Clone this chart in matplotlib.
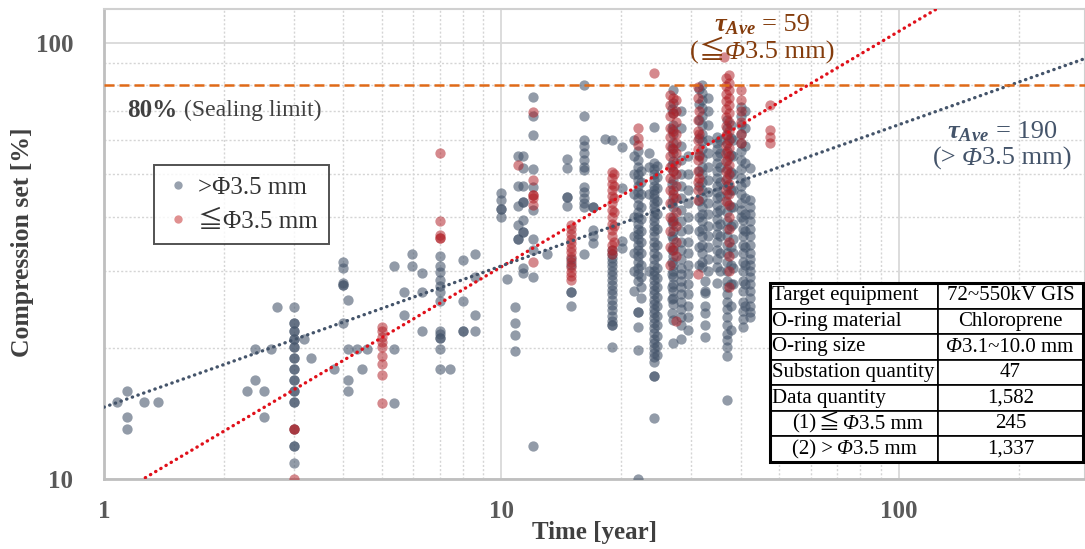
import numpy as np
import matplotlib.pyplot as plt
from matplotlib.ticker import FixedLocator, FuncFormatter, LogLocator, NullFormatter
from matplotlib.lines import Line2D
from matplotlib.patches import Rectangle

plt.rcParams['font.family'] = ['Liberation Serif', 'Noto Sans CJK JP']
plt.rcParams['mathtext.fontset'] = 'custom'
plt.rcParams['mathtext.rm'] = 'Liberation Serif'
plt.rcParams['mathtext.it'] = 'Liberation Serif:italic'
plt.rcParams['mathtext.bf'] = 'Liberation Serif:italic:bold'

# >Φ3.5 mm : operating time [year] and compression set [%] per column
big_years = [1.08, 1.14, 1.26, 1.37, 2.29, 2.40, 2.52, 2.63, 2.73, 3.0, 3.19, 3.32,
             3.78, 4.0, 4.11, 4.34, 4.47, 4.60, 5.36, 5.70, 5.97, 6.31, 7.0, 7.44,
             8.0, 8.6, 10.0, 10.3, 10.8, 11.0, 11.3, 12.0, 13.0, 14.6, 15.0, 16.1,
             17.0, 18.2, 19.0, 20.1, 21.5, 22.0, 23.5, 24.2, 27.0, 28.3, 29.5, 32.0,
             33.0, 32.5, 34.9, 37.0, 38.2, 40.0, 40.5, 42.2,
             22.5, 24.6, 26.8, 31.5, 35.5, 37.8, 41.0]
big_vals = [
    [15.0], [15.9, 13.9, 13.0], [15.0], [15.0], [15.9], [19.9, 16.9], [15.9, 13.9],
    [19.9], [24.8],
    [24.8, 22.8, 22.8, 21.8, 21.8, 20.9, 20.9, 20.1, 20.1, 18.9, 18.9, 17.9, 17.9,
     16.9, 16.9, 15.9, 15.9, 15.0, 15.0, 13.0, 11.9, 11.9, 10.9],
    [20.9], [18.9], [17.9], [31.5, 30.4, 28.1, 27.9, 27.9, 22.8], [25.8, 19.9, 16.9, 15.9],
    [19.9], [17.9], [19.9], [30.8, 19.9, 14.9], [26.8, 23.8], [32.8, 30.8],
    [29.7, 26.8, 21.9],
    [32.5, 30.8, 29.8, 28.6, 27.7, 26.8, 25.6, 21.9, 21.5, 21.1, 21.1, 19.9, 17.9],
    [17.9], [31.8, 25.6, 21.8, 21.8], [32.8, 29.0, 23.8, 21.9],
    [45.3, 43.6, 41.6, 41.6, 40.0], [28.8], [24.8, 22.8, 21.4, 19.7],
    [55.2, 46.9, 42.2, 38.2, 35.6, 35.6],
    [55.0, 51.6, 46.9, 43.1, 43.1, 39.3, 36.9, 36.9, 30.4, 29.7],
    [75.3, 68.2, 61.5, 51.3, 46.7, 41.3, 35.6, 33.5, 29.1, 11.9],
    [32.9], [54.1, 51.6, 44.4, 44.4, 42.3], [32.0, 31.0, 26.9, 26.9, 24.9],
    [80.0, 68.2, 59.9, 58.0, 56.0, 54.0, 52.0, 51.1, 46.8, 45.5, 44.0, 43.0, 42.1, 32.9],
    [42.1, 42.1, 37.3, 36.0, 34.7], [60.2],
    [59.9, 33.5, 32.9, 32.2, 31.5, 30.8, 30.0, 29.3, 28.6, 27.9, 27.2, 26.5, 25.8,
     25.1, 24.4, 23.7, 23.0, 22.5, 22.5, 20.1],
    [57.7, 46.4, 35.1, 33.8],
    [60.0, 55.0, 50.0, 45.0, 40.0, 36.0, 33.0, 30.0, 27.0],
    [56.4, 54.0, 52.0, 50.0, 48.5, 47.0, 45.5, 44.0, 42.5, 41.0, 40.0, 38.5, 37.5,
     36.5, 35.5, 34.5, 33.5, 32.5, 31.5, 30.5, 29.5, 28.5, 24.1, 24.1, 22.3, 19.8, 10.0],
    [56.0, 52.0, 45.0, 30.0],
    [64.3, 53.0, 51.5, 50.0, 48.5, 47.0, 46.0, 45.0, 44.0, 43.0, 42.0, 41.0, 40.0,
     39.0, 38.0, 37.0, 36.0, 35.0, 34.0, 33.0, 32.0, 31.0, 30.0, 29.3, 28.6, 27.9,
     27.2, 26.5, 25.8, 25.2, 24.6, 24.0, 23.4, 22.8, 22.2, 21.6, 21.0, 20.5, 20.0,
     19.5, 19.0, 18.6, 17.2, 17.2, 13.8],
    [78.0, 73.0, 69.0, 65.0, 62.0, 59.0, 56.0, 53.5, 51.0, 48.5, 46.0, 44.0, 42.0,
     40.0, 38.5, 37.0, 35.5, 34.0, 32.5, 31.0, 30.0, 29.0, 28.0, 27.0, 26.0, 25.2,
     23.2, 20.5],
    [70.0, 64.0, 58.0, 54.0, 50.0, 47.0, 44.0, 41.5, 39.0, 37.0, 35.0, 33.5, 32.0,
     30.5, 29.5, 28.5, 27.5, 26.5, 25.5, 24.5, 23.5, 22.5, 21.0],
    [55.0, 50.0, 46.0, 43.0, 40.0, 37.5, 35.0, 33.0, 31.0, 29.5, 28.0, 26.5, 25.0,
     23.5, 22.0],
    [80.0, 77.0, 74.0, 71.0, 68.0, 65.0, 62.0, 59.5, 57.0, 54.5, 52.0, 50.0, 48.0,
     46.0, 44.0, 42.0, 40.5, 39.0, 37.5, 36.0, 34.5, 33.0, 31.5, 30.7],
    [75.0, 70.0, 65.0, 60.0, 56.0, 52.0, 48.5, 45.5, 43.0, 40.5, 38.0, 36.0, 34.0,
     32.0, 30.0],
    [28.5, 27.0, 26.7, 25.0, 24.0, 22.5, 21.2],
    [61.0, 59.0, 57.0, 55.0, 53.0, 51.0, 49.0, 47.0, 45.5, 44.0, 42.5, 41.0, 39.5,
     38.0, 36.5, 35.0, 33.5, 32.0, 30.7, 28.1],
    [66.6, 64.0, 61.5, 59.0, 56.5, 54.0, 51.5, 49.0, 47.0, 45.0, 43.0, 41.0, 39.0,
     37.5, 36.0, 34.5, 33.0, 31.5, 30.0, 28.5, 27.5, 26.5, 25.5, 24.5, 23.5, 22.5,
     21.5, 20.8, 20.1, 19.1, 15.2],
    [60.0, 55.0, 50.0, 46.0, 42.0, 38.5, 35.5, 33.0, 30.5, 28.0],
    [71.4, 68.0, 65.0, 62.0, 59.0, 56.5, 54.0, 51.5, 49.0, 47.0, 45.0, 43.0, 41.5, 39.9],
    [39.3, 37.5, 36.0, 34.5, 33.0, 31.5, 30.0, 28.5, 27.0, 25.5, 24.3, 23.3, 22.3],
    [51.6, 43.6, 42.0, 40.5, 39.0, 37.5, 36.0, 34.5, 33.0, 32.0, 31.0, 30.0, 29.0,
     28.0, 27.0, 26.0, 25.0, 24.2, 23.5],
    [50.9, 48.0, 45.0, 42.0, 39.5, 37.0, 35.0, 33.0, 31.0, 29.0, 27.5, 26.0],
    [52.2, 49.2, 46.5, 43.5, 40.5, 37.5, 34.5, 32.5, 30.5, 28.9, 27.5, 26.2, 24.9,
     23.7, 22.5, 21.3, 20.2, 19.2],
    [70.5, 63.5, 57.5, 52.5, 47.5, 43.0, 39.0, 36.0, 33.5, 31.5, 29.5, 27.5, 25.9, 24.0],
    [78.5, 72.5, 66.5, 60.5, 55.5, 51.0, 47.0, 43.5, 40.0, 37.0, 34.0, 31.0],
    [60.0, 56.0, 52.0, 48.0, 44.5, 41.5, 38.5, 36.0, 33.0, 30.0],
    [65.0, 60.5, 55.5, 50.5, 46.0, 42.0, 38.0, 34.0, 31.0, 28.0, 25.0, 22.0],
    [70.0, 64.0, 58.0, 53.0, 48.0, 44.0, 40.5, 37.0, 34.0, 31.0, 28.0, 25.0],
]

# ≦Φ3.5 mm
small_years = [3.0, 5.0, 7.0, 11.0, 12.0, 15.0, 19.0, 22.0, 24.2, 26.5, 27.5, 31.2,
               36.3, 37.4, 40.0, 47.4, 36.8, 27.0, 19.2, 31.5]
small_vals = [
    [13.0, 13.0, 10.0],
    [22.3, 21.8, 21.2, 20.6, 20.1, 19.1, 18.4, 17.3, 14.9],
    [56.0, 39.0, 36.2, 35.8, 35.8],
    [52.6],
    [69.4, 48.6, 44.8, 44.8, 44.0, 42.5, 31.4],
    [38.3, 37.4, 36.5, 35.6, 34.7, 33.9, 33.1, 32.3, 31.5, 30.7, 29.9, 29.2, 28.6],
    [50.7, 49.0, 47.5, 46.0, 44.5, 43.0, 41.5, 40.0, 38.5, 37.3, 36.0, 34.5, 33.5, 32.9],
    [63.7, 60.5, 58.5],
    [85.2],
    [76.0, 72.0, 68.0, 64.0, 61.0, 58.0, 55.0, 52.0, 49.0, 46.0, 43.0, 40.0, 37.0,
     34.0, 31.0],
    [74.0, 70.0, 66.0, 62.0, 59.0, 56.0, 53.0, 50.0, 47.0, 44.0, 41.0, 38.0, 35.0,
     32.5, 23.0],
    [79.1, 75.0, 66.6, 63.0, 60.0, 57.0, 54.0, 51.0, 48.0, 46.0, 43.6, 29.5],
    [92.9],
    [84.3, 81.0, 78.0, 75.0, 72.0, 69.0, 66.0, 63.0, 60.0, 57.5, 55.0, 52.5, 50.0,
     47.5, 45.0, 42.5, 40.0, 37.5, 35.0, 32.5, 30.0, 27.6],
    [78.0, 74.0, 70.0, 66.0, 62.0, 59.0],
    [72.1, 63.2, 61.0, 58.9],
    [83.0, 79.5, 76.5, 73.5, 70.5, 67.5, 64.5, 61.5, 58.5, 56.0, 53.5, 51.0, 48.5,
     46.0, 43.5],
    [75.0, 69.0, 63.0, 57.0, 51.0, 45.0, 39.0, 33.5],
    [50.0, 47.0, 44.0, 41.0, 38.0, 35.0],
    [70.0, 62.0, 55.0, 49.0],
]

# trend lines: y = limit * (t / tau) ** n
limit = 80
tau_small, n_small = 59, 0.54
tau_big, n_big = 190, 0.324

table_rows = [
    ["Target equipment", "72~550kV GIS"],
    ["O-ring material", "Chloroprene"],
    ["O-ring size", ""],
    ["Substation quantity", "47"],
    ["Data quantity", "1,582"],
    ["", "245"],
    ["", "1,337"],
]

c_big = '#44546a'
c_small = '#b01e25'
c_txt = '#595959'
W, H = 1085, 549

fig = plt.figure(figsize=(W / 100, H / 100), dpi=100)
ax = fig.add_axes([104 / W, 70 / H, 981 / W, 470 / H])
ax.set_xscale('log')
ax.set_yscale('log')
ax.set_xlim(1, 294)
ax.set_ylim(10, 119.7)

bx = np.concatenate([[t] * len(v) for t, v in zip(big_years, big_vals)])
by = np.concatenate(big_vals)
sx = np.concatenate([[t] * len(v) for t, v in zip(small_years, small_vals)])
sy = np.concatenate(small_vals)
ax.scatter(bx, by, s=55, color=c_big, alpha=0.58, linewidths=0, zorder=3)
ax.scatter(sx, sy, s=55, color=c_small, alpha=0.52, linewidths=0, zorder=3)

tt = np.logspace(0, np.log10(300), 200)
ax.plot(tt, limit * (tt / tau_small) ** n_small, color='#e0101a', lw=2.4,
        ls=(0, (0.1, 1.7)), dash_capstyle='round', zorder=4)
ax.plot(tt, limit * (tt / tau_big) ** n_big, color=c_big, lw=2.4,
        ls=(0, (0.1, 1.7)), dash_capstyle='round', zorder=4)
ax.axhline(limit, color='#e06a18', lw=1.8, ls=(0, (4, 2)), zorder=4)

# grid & axes
ax.xaxis.set_major_locator(FixedLocator([1, 10, 100]))
ax.yaxis.set_major_locator(FixedLocator([10, 100]))
ax.xaxis.set_minor_locator(LogLocator(subs=range(2, 10)))
ax.yaxis.set_minor_locator(LogLocator(subs=range(2, 10)))
fmt = FuncFormatter(lambda v, p: f"{v:g}")
ax.xaxis.set_major_formatter(fmt)
ax.yaxis.set_major_formatter(fmt)
ax.xaxis.set_minor_formatter(NullFormatter())
ax.yaxis.set_minor_formatter(NullFormatter())
ax.tick_params(which='both', length=0)
ax.tick_params(axis='x', pad=15, labelsize=18, labelcolor=c_txt)
ax.tick_params(axis='y', pad=22, labelsize=18, labelcolor=c_txt)
for lab in ax.get_xticklabels() + ax.get_yticklabels():
    lab.set_fontweight('bold')
ax.grid(which='major', color='#d9d9d9', lw=1.3, ls='-')
ax.grid(which='minor', color='#d5d5d5', lw=1.0, ls=(0, (1.5, 1.5)))
ax.set_axisbelow(True)
for side in ['left', 'bottom']:
    ax.spines[side].set_color('#bfbfbf')
    ax.spines[side].set_linewidth(2)
for side in ['top', 'right']:
    ax.spines[side].set_color('#d0d0d0')
    ax.spines[side].set_linewidth(1.5)

fig.text(22 / W, 1 - 242 / H, "Compression set [%]", rotation=90, ha='center',
         va='center', fontsize=18.5, fontweight='bold', color='#404040')
fig.text(594 / W, 1 - 533 / H, "Time [year]", ha='center', va='center',
         fontsize=18, fontweight='bold', color='#404040')

ax.text(0.0234, 0.785, "80%", transform=ax.transAxes, ha='left', va='center',
        fontsize=18, fontweight='bold', color='#404040')
ax.text(0.082, 0.785, "(Sealing limit)", transform=ax.transAxes, ha='left',
        va='center', fontsize=17, color='#404040')

RM = {}
IT = {'fontstyle': 'italic'}
SYM = {'family': 'Noto Sans CJK JP'}
renderer = fig.canvas.get_renderer()


def rich_text(x, y, pieces, size, color, ha='center', zorder=8):
    # x, y: figure pixels from top-left, y is the baseline; numbers are gaps in px
    arts, widths = [], []
    for p in pieces:
        if isinstance(p, (int, float)):
            arts.append(None)
            widths.append(p)
            continue
        s, kw = p
        a = fig.text(0, 1 - y / H, s, fontsize=size, color=color, ha='left',
                     va='baseline', zorder=zorder, **kw)
        arts.append(a)
        widths.append(a.get_window_extent(renderer).width)
    x0 = x - sum(widths) / 2 if ha == 'center' else x
    for a, w in zip(arts, widths):
        if a is not None:
            a.set_x(x0 / W)
        x0 += w


rich_text(762, 31, [(r"$\mathbf{τ_{Ave}}$", RM), 6, ("= 59", RM)], 19, '#843c0c')
rich_text(762, 59, [("(", RM), ("≦", SYM), ("Φ", IT), ("3.5 mm)", RM)], 19, '#843c0c')
rich_text(1002, 138, [(r"$\mathbf{τ_{Ave}}$", RM), 6, ("= 190", RM)], 19, c_big)
rich_text(1002, 165, [("(>", RM), 5, ("Φ", IT), ("3.5 mm)", RM)], 19, c_big)

# legend
handles = [Line2D([], [], ls='', marker='o', ms=6, mec='none', color='#98a1ae'),
           Line2D([], [], ls='', marker='o', ms=6, mec='none', color='#e09090')]
leg = ax.legend(handles, [">Φ3.5 mm", "≦Φ3.5 mm"], loc='upper left',
                bbox_to_anchor=(0.051, 0.668), fontsize=18, frameon=True,
                fancybox=False, handletextpad=0.3, handlelength=1.0,
                borderpad=0.45, labelspacing=0.45, borderaxespad=0)
leg.get_frame().set_edgecolor('#262626')
leg.get_frame().set_linewidth(1.4)
for t in leg.get_texts():
    t.set_color('#333333')

# table
tab = ax.table(cellText=table_rows, cellLoc='center', colWidths=[0.537, 0.463],
               bbox=[0.679, 0.036, 0.319, 0.381])
tab.set_zorder(6)
tab.auto_set_font_size(False)
tab.set_fontsize(15)
for (r, c), cell in tab.get_celld().items():
    cell.set_edgecolor('black')
    cell.set_linewidth(1.2)
    cell.set_facecolor('white')
    cell.PAD = 0.012
    if c == 0:
        cell._loc = 'left'
        cell.get_text().set_ha('left')
ax.add_patch(Rectangle((0.679, 0.036), 0.319, 0.381, transform=ax.transAxes,
                       fill=False, lw=2.2, edgecolor='black', zorder=7))

row_h = 179 / 7
base = lambda i: 283 + (i + 0.5) * row_h + 5
rich_text(1010, base(2), [("Φ", IT), ("3.1~10.0 mm", RM)], 15, 'black')
rich_text(792, base(5), [("(1)", RM), 3, ("≦", SYM), 3, ("Φ", IT), ("3.5 mm", RM)],
          15, 'black', ha='left')
rich_text(792, base(6), [("(2) >", RM), 4, ("Φ", IT), ("3.5 mm", RM)],
          15, 'black', ha='left')

fig.savefig('out.png', dpi=100)
